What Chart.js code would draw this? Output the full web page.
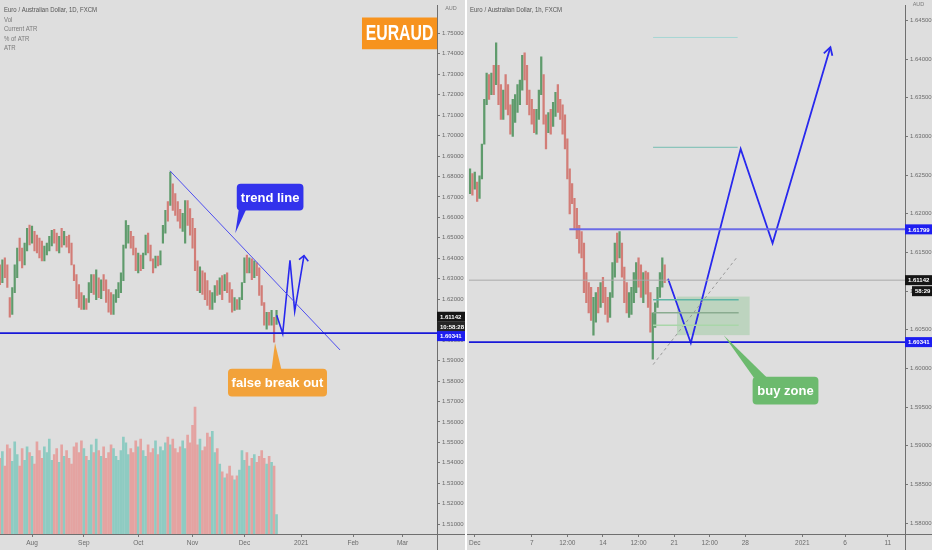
<!DOCTYPE html>
<html>
<head>
<meta charset="utf-8">
<title>EURAUD</title>
<script src="https://cdn.jsdelivr.net/npm/chart.js@4.4.1/dist/chart.umd.min.js"></script>
<style>
  html, body { margin: 0; padding: 0; background: #dedede; }
  body { width: 932px; height: 550px; position: relative; overflow: hidden; }
  canvas { position: absolute; top: 0; }
  #daily { left: 0; }
  #hourly { left: 467px; }
  #gap { position: absolute; left: 465px; top: 0; width: 2px; height: 550px; background: #fff; }
</style>
</head>
<body>
<canvas id="daily" width="465" height="550"></canvas>
<div id="gap"></div>
<canvas id="hourly" width="465" height="550"></canvas>
<script>
// ---------- daily chart (left) : one bar per trading day, day 0 = Aug 3 ----------
const dFirst = -13;
const dHigh = [
  1.6368, 1.6392, 1.6402, 1.6368, 1.6208, 1.6257, 1.6368, 1.6450, 1.6499, 1.6450,
  1.6474, 1.6547, 1.6562, 1.6557, 1.6532, 1.6513, 1.6499, 1.6484, 1.6460, 1.6474,
  1.6508, 1.6537, 1.6542, 1.6523, 1.6508, 1.6547, 1.6532, 1.6508, 1.6513, 1.6474,
  1.6368, 1.6320, 1.6271, 1.6232, 1.6218, 1.6203, 1.6281, 1.6320, 1.6320, 1.6344,
  1.6305, 1.6295, 1.6320, 1.6295, 1.6247, 1.6232, 1.6223, 1.6247, 1.6281, 1.6329,
  1.6465, 1.6585, 1.6561, 1.6532, 1.6508, 1.6450, 1.6426, 1.6416, 1.6426, 1.6513,
  1.6523, 1.6465, 1.6397, 1.6411, 1.6411, 1.6436, 1.6561, 1.6634, 1.6677, 1.6822,
  1.6764, 1.6716, 1.6677, 1.6639, 1.6620, 1.6682, 1.6682, 1.6643, 1.6595, 1.6547,
  1.6387, 1.6358, 1.6339, 1.6329, 1.6291, 1.6242, 1.6232, 1.6266, 1.6291, 1.6305,
  1.6315, 1.6320, 1.6329, 1.6281, 1.6247, 1.6208, 1.6198, 1.6208, 1.6281, 1.6402,
  1.6416, 1.6402, 1.6397, 1.6387, 1.6378, 1.6353, 1.6266, 1.6184, 1.6136, 1.6136,
  1.6145, 1.6111, 1.6145
];
const dLow = [
  1.6271, 1.6281, 1.6305, 1.6257, 1.6112, 1.6126, 1.6232, 1.6305, 1.6387, 1.6353,
  1.6368, 1.6436, 1.6465, 1.6474, 1.6436, 1.6426, 1.6402, 1.6387, 1.6387, 1.6416,
  1.6436, 1.6460, 1.6474, 1.6436, 1.6426, 1.6455, 1.6465, 1.6455, 1.6426, 1.6368,
  1.6291, 1.6203, 1.6160, 1.6150, 1.6150, 1.6150, 1.6184, 1.6232, 1.6223, 1.6198,
  1.6208, 1.6203, 1.6242, 1.6184, 1.6136, 1.6126, 1.6126, 1.6184, 1.6208, 1.6232,
  1.6291, 1.6450, 1.6474, 1.6450, 1.6416, 1.6339, 1.6329, 1.6339, 1.6349, 1.6416,
  1.6426, 1.6387, 1.6329, 1.6353, 1.6363, 1.6368, 1.6474, 1.6523, 1.6581, 1.6658,
  1.6634, 1.6610, 1.6581, 1.6547, 1.6532, 1.6474, 1.6561, 1.6513, 1.6450, 1.6339,
  1.6242, 1.6232, 1.6223, 1.6198, 1.6169, 1.6150, 1.6150, 1.6184, 1.6218, 1.6223,
  1.6198, 1.6242, 1.6232, 1.6184, 1.6136, 1.6145, 1.6150, 1.6150, 1.6198, 1.6281,
  1.6329, 1.6329, 1.6295, 1.6305, 1.6315, 1.6218, 1.6169, 1.6073, 1.6054, 1.6073,
  1.6073, 1.5990, 1.6077
];
const dClose = [
  1.6290, 1.6380, 1.6320, 1.6265, 1.6130, 1.6240, 1.6350, 1.6440, 1.6400, 1.6370,
  1.6460, 1.6540, 1.6480, 1.6500, 1.6450, 1.6440, 1.6410, 1.6400, 1.6450, 1.6470,
  1.6500, 1.6530, 1.6490, 1.6450, 1.6500, 1.6475, 1.6500, 1.6470, 1.6440, 1.6380,
  1.6300, 1.6220, 1.6200, 1.6160, 1.6210, 1.6195, 1.6270, 1.6300, 1.6240, 1.6290,
  1.6220, 1.6285, 1.6260, 1.6200, 1.6150, 1.6140, 1.6180, 1.6230, 1.6270, 1.6310,
  1.6440, 1.6480, 1.6520, 1.6460, 1.6430, 1.6350, 1.6400, 1.6350, 1.6420, 1.6500,
  1.6440, 1.6400, 1.6340, 1.6400, 1.6370, 1.6420, 1.6550, 1.6620, 1.6600, 1.6680,
  1.6650, 1.6620, 1.6600, 1.6560, 1.6600, 1.6660, 1.6580, 1.6530, 1.6470, 1.6360,
  1.6260, 1.6320, 1.6240, 1.6210, 1.6180, 1.6160, 1.6220, 1.6260, 1.6230, 1.6300,
  1.6250, 1.6310, 1.6250, 1.6200, 1.6150, 1.6190, 1.6160, 1.6200, 1.6270, 1.6390,
  1.6340, 1.6390, 1.6310, 1.6370, 1.6330, 1.6230, 1.6180, 1.6090, 1.6120, 1.6080,
  1.6130, 1.6060, 1.6114
];
const dOpen0 = 1.6320;
const dVolume = [
  78, 85, 70, 92, 88, 75, 95, 82, 70, 88,
  76, 90, 84, 80, 72, 95, 86, 78, 90, 84,
  98, 76, 82, 88, 74, 92, 80, 86, 78, 72,
  90, 94, 84, 96, 88, 80, 76, 92, 84, 98,
  86, 80, 90, 78, 84, 92, 88, 80, 76, 86,
  100, 94, 82, 88, 84, 96, 90, 98, 86, 80,
  92, 84, 88, 96, 82, 90, 86, 94, 100, 92,
  98, 88, 84, 90, 96, 88, 102, 94, 112, 131,
  92, 98, 86, 90, 104, 100, 106, 84, 88, 72,
  64, 58, 62, 70, 60, 56, 60, 66, 86, 76,
  84, 70, 78, 82, 74, 80, 86, 78, 72, 80,
  74, 70, 20
];
const dTickPos = [0, 21, 43, 65, 86, 109, 130, 150];
const dTickNames = ['Aug', 'Sep', 'Oct', 'Nov', 'Dec', '2021', 'Feb', 'Mar'];
const dPriceTicks = [1.51, 1.52, 1.53, 1.54, 1.55, 1.56, 1.57, 1.58, 1.59, 1.60, 1.61, 1.62, 1.63,
  1.64, 1.65, 1.66, 1.67, 1.68, 1.69, 1.70, 1.71, 1.72, 1.73, 1.74, 1.75];

// ---------- hourly chart (right) : one bar per 4 hours, day 0 = Dec 1 ----------
const hFirst = -2 / 6;
const hStep = 1 / 6;
const hHigh = [
  1.6258, 1.6252, 1.6254, 1.6241, 1.6249, 1.6290, 1.6348, 1.6382, 1.6380, 1.6382,
  1.6392, 1.6421, 1.6392, 1.6367, 1.6360, 1.6380, 1.6367, 1.6341, 1.6348, 1.6354,
  1.6367, 1.6373, 1.6405, 1.6408, 1.6392, 1.6360, 1.6348, 1.6335, 1.6335, 1.6360,
  1.6403, 1.6380, 1.6328, 1.6331, 1.6335, 1.6344, 1.6357, 1.6367, 1.6348, 1.6341,
  1.6328, 1.6297, 1.6258, 1.6239, 1.6220, 1.6207, 1.6185, 1.6177, 1.6162, 1.6124,
  1.6111, 1.6105, 1.6092, 1.6098, 1.6105, 1.6111, 1.6118, 1.6105, 1.6092, 1.6098,
  1.6137, 1.6162, 1.6175, 1.6177, 1.6162, 1.6131, 1.6111, 1.6098, 1.6105, 1.6124,
  1.6137, 1.6143, 1.6134, 1.6124, 1.6126, 1.6124, 1.6098, 1.6072, 1.6085, 1.6105,
  1.6124, 1.6143, 1.6134
];
const hLow = [
  1.6226, 1.6224, 1.6232, 1.6216, 1.6220, 1.6245, 1.6290, 1.6341, 1.6348, 1.6354,
  1.6354, 1.6367, 1.6341, 1.6322, 1.6322, 1.6335, 1.6328, 1.6303, 1.6300, 1.6318,
  1.6331, 1.6341, 1.6360, 1.6373, 1.6341, 1.6328, 1.6316, 1.6305, 1.6303, 1.6322,
  1.6354, 1.6316, 1.6284, 1.6305, 1.6303, 1.6313, 1.6326, 1.6331, 1.6322, 1.6303,
  1.6284, 1.6245, 1.6200, 1.6213, 1.6181, 1.6168, 1.6149, 1.6143, 1.6098, 1.6085,
  1.6072, 1.6062, 1.6043, 1.6060, 1.6072, 1.6079, 1.6085, 1.6070, 1.6060, 1.6066,
  1.6092, 1.6118, 1.6137, 1.6143, 1.6118, 1.6085, 1.6072, 1.6066, 1.6070, 1.6085,
  1.6098, 1.6105, 1.6092, 1.6085, 1.6096, 1.6079, 1.6047, 1.6012, 1.6053, 1.6079,
  1.6092, 1.6105, 1.6111
];
const hClose = [
  1.6240, 1.6230, 1.6245, 1.6222, 1.6244, 1.6285, 1.6340, 1.6370, 1.6355, 1.6376,
  1.6360, 1.6380, 1.6350, 1.6330, 1.6355, 1.6340, 1.6335, 1.6310, 1.6340, 1.6350,
  1.6362, 1.6368, 1.6400, 1.6380, 1.6350, 1.6335, 1.6322, 1.6312, 1.6330, 1.6355,
  1.6375, 1.6325, 1.6310, 1.6325, 1.6310, 1.6340, 1.6350, 1.6338, 1.6330, 1.6308,
  1.6292, 1.6255, 1.6220, 1.6218, 1.6190, 1.6175, 1.6158, 1.6155, 1.6108, 1.6092,
  1.6080, 1.6070, 1.6085, 1.6090, 1.6080, 1.6105, 1.6090, 1.6078, 1.6068, 1.6092,
  1.6130, 1.6155, 1.6145, 1.6150, 1.6125, 1.6092, 1.6080, 1.6090, 1.6100, 1.6118,
  1.6130, 1.6110, 1.6100, 1.6120, 1.6102, 1.6085, 1.6055, 1.6068, 1.6080, 1.6100,
  1.6120, 1.6130, 1.6114
];
const hOpen0 = 1.6235;
const hTickPos = [0, 4, 6.5, 9, 11.5, 14, 16.5, 19, 23, 26, 29];
const hTickNames = ['Dec', '7', '12:00', '14', '12:00', '21', '12:00', '28', '2021', '6', '11'];
const hPriceTicks = [1.58, 1.585, 1.59, 1.595, 1.60, 1.605, 1.61, 1.615, 1.62, 1.625, 1.63, 1.635, 1.64, 1.645];

// levels
const lastPrice = 1.61142;
const support = 1.60341;
const resistance = 1.61799;

// ---------- helpers ----------
const SANS = "'Liberation Sans', Arial, sans-serif";
Chart.defaults.font.family = SANS;
Chart.defaults.font.size = 6;
Chart.defaults.color = '#6b6b6b';
Chart.defaults.animation = false;

const UP = '#5f9b6c', DOWN = '#d27d77';
const VOL_UP = '#8ecbc2', VOL_DOWN = '#e4a3a1';
const BLUE = '#2828ee';

function colours(close, open0, up, down) {
  return close.map((c, i) => c >= (i ? close[i - 1] : open0) ? up : down);
}

function line(points, color, width, dash) {
  return {
    type: 'line', data: points.map(p => ({ x: p[0], y: p[1] })),
    borderColor: color, borderWidth: width, borderDash: dash || [],
    pointRadius: 0, fill: false, tension: 0, order: 0, yAxisID: 'y'
  };
}

function timeAxis(min, max, pos, names) {
  return {
    type: 'linear', min, max, offset: false,
    afterBuildTicks: s => { s.ticks = pos.map(v => ({ value: v })); },
    afterFit: s => { s.height = 16; },
    ticks: { autoSkip: false, maxRotation: 0, padding: 2, font: { size: 6.5 }, callback: v => names[pos.indexOf(v)] },
    grid: { drawOnChartArea: false, tickLength: 3, color: '#777', offset: false },
    border: { color: '#6f6f6f' }
  };
}

function priceAxis(min, max, ticks, width) {
  return {
    position: 'right', min, max,
    afterBuildTicks: s => { s.ticks = ticks.map(v => ({ value: v })); },
    afterFit: s => { s.width = width; },
    ticks: { padding: 2, callback: v => Number(v).toFixed(5) },
    grid: { drawOnChartArea: false, tickLength: 3, color: '#777' },
    border: { color: '#6f6f6f' }
  };
}

function box(g, l, t, w, h, r) {
  g.beginPath();
  if (g.roundRect) g.roundRect(l, t, w, h, r); else g.rect(l, t, w, h);
  g.fill();
}

function callout(chart, c) {
  const g = chart.ctx, xs = chart.scales.x, ys = chart.scales.y;
  const l = xs.getPixelForValue(c.x0), r = xs.getPixelForValue(c.x1);
  const t = ys.getPixelForValue(c.top), b = ys.getPixelForValue(c.bottom);
  g.save();
  g.fillStyle = c.color;
  box(g, l, t, r - l, b - t, c.radius);
  if (c.tip) {
    const tx = xs.getPixelForValue(c.tip[0]), ty = ys.getPixelForValue(c.tip[1]);
    const edge = ty > b ? b - 1 : t + 1;
    g.beginPath();
    g.moveTo(l + (r - l) * c.base[0], edge);
    g.lineTo(tx, ty);
    g.lineTo(l + (r - l) * c.base[1], edge);
    g.closePath();
    g.fill();
  }
  g.fillStyle = '#fff';
  g.font = 'bold ' + c.size + 'px ' + SANS;
  g.textAlign = 'center';
  g.textBaseline = 'middle';
  g.translate((l + r) / 2, (t + b) / 2 + 1);
  g.scale(c.squeeze || 1, 1);
  g.fillText(c.text, 0, 0);
  g.restore();
}

function tag(chart, price, text, bg, dy, indent) {
  const g = chart.ctx;
  const y = chart.scales.y.getPixelForValue(price) + dy;
  const x0 = chart.chartArea.right + indent;
  g.save();
  g.fillStyle = bg;
  g.fillRect(x0, y - 5, chart.width - x0, 10);
  g.fillStyle = '#fff';
  g.font = 'bold 6px ' + SANS;
  g.textAlign = 'left';
  g.textBaseline = 'middle';
  g.fillText(text, x0 + 3, y + 0.5);
  g.restore();
}

function frame(chart) {
  const g = chart.ctx, a = chart.chartArea;
  g.save();
  g.strokeStyle = '#6f6f6f';
  g.lineWidth = 1;
  g.beginPath();
  g.moveTo(0, a.bottom + 0.5); g.lineTo(chart.width, a.bottom + 0.5);
  g.moveTo(a.right + 0.5, a.bottom); g.lineTo(a.right + 0.5, chart.height);
  g.stroke();
  g.restore();
}

function legendText(chart, lines, x) {
  const g = chart.ctx;
  g.save();
  g.textAlign = 'left';
  g.textBaseline = 'middle';
  lines.forEach((s, i) => {
    g.save();
    g.translate(x, 10 + i * 9.6);
    g.scale(0.86, 1);
    g.fillStyle = i ? '#7a7a7a' : '#555';
    g.font = '7px ' + SANS;
    g.fillText(s, 0, 0);
    g.restore();
  });
  g.restore();
}

function unitText(chart, y) {
  const g = chart.ctx, a = chart.chartArea;
  g.save();
  g.fillStyle = '#7a7a7a';
  g.font = '5.5px ' + SANS;
  g.textAlign = 'center';
  g.textBaseline = 'middle';
  g.fillText('AUD', (a.right + chart.width) / 2, y);
  g.restore();
}

const background = {
  id: 'background',
  beforeDraw(chart) {
    const g = chart.ctx;
    g.save(); g.fillStyle = '#dedede'; g.fillRect(0, 0, chart.width, chart.height); g.restore();
  }
};

// ---------- left : daily ----------
const dX = dHigh.map((_, i) => dFirst + i);
const dUpDown = colours(dClose, dOpen0, UP, DOWN);
const dVolColour = colours(dClose, dOpen0, VOL_UP, VOL_DOWN);

const dailyNotes = {
  id: 'dailyNotes',
  afterDatasetsDraw(chart) {
    callout(chart, { text: 'trend line', x0: 82.9, x1: 109.9, top: 1.67647, bottom: 1.66340,
      tip: [82.3, 1.65228], base: [0.03, 0.14], color: '#3232ec', size: 13, radius: 4 });
    callout(chart, { text: 'false break out', x0: 79.35, x1: 119.43, top: 1.58600, bottom: 1.57245,
      tip: [98.38, 1.59858], base: [0.44, 0.54], color: '#f2a23a', size: 13, radius: 4 });
    callout(chart, { text: 'EURAUD', x0: 133.6, x1: 164, top: 1.75774, bottom: 1.74226,
      color: '#f7931e', size: 22, radius: 0, squeeze: 0.72 });
    legendText(chart, ['Euro / Australian Dollar, 1D, FXCM', 'Vol', 'Current ATR', '% of ATR', 'ATR'], 4);
  },
  afterDraw(chart) {
    frame(chart);
    unitText(chart, 8);
    tag(chart, lastPrice, '1.61142', '#151515', 0, 0);
    tag(chart, lastPrice, '10:58:28', '#262626', 10, 0);
    tag(chart, support, '1.60341', '#1d1df0', 3, 0);
  }
};

new Chart(document.getElementById('daily'), {
  type: 'bar',
  data: {
    datasets: [
      line([[-13, support], [164, support]], '#1818d8', 1.6),
      line([[55.87, 1.68276], [124.70, 1.59519]], '#4e4ef0', 1),
      line([[99.07, 1.61212], [101.5, 1.6032], [104.45, 1.63905], [106.36, 1.61406], [110.12, 1.64129]], BLUE, 1.6),
      line([[108.1, 1.63936], [110.12, 1.64129], [111.86, 1.63859]], BLUE, 1.6),
      { type: 'bar', data: dX.map((x, i) => ({ x, y: [dLow[i], dHigh[i]] })), backgroundColor: dUpDown,
        barThickness: 1.5, grouped: false, order: 2, yAxisID: 'y' },
      { type: 'bar', data: dX.map((x, i) => ({ x, y: dVolume[i] })), backgroundColor: dVolColour,
        barThickness: 2, grouped: false, order: 3, yAxisID: 'vol' }
    ]
  },
  options: {
    responsive: false,
    layout: { padding: 0 },
    plugins: { legend: { display: false }, tooltip: { enabled: false } },
    scales: {
      x: timeAxis(-12.96, 163.97, dTickPos, dTickNames),
      y: priceAxis(1.50520, 1.76355, dPriceTicks, 28),
      vol: { display: false, min: 0, max: 545 }
    }
  },
  plugins: [background, dailyNotes]
});

// ---------- right : hourly ----------
const hX = hHigh.map((_, i) => hFirst + i * hStep);
const hUpDown = colours(hClose, hOpen0, UP, DOWN);

const hourlyNotes = {
  id: 'hourlyNotes',
  beforeDatasetsDraw(chart) {
    const g = chart.ctx, xs = chart.scales.x, ys = chart.scales.y;
    const l = xs.getPixelForValue(14.20), r = xs.getPixelForValue(19.30);
    const t = ys.getPixelForValue(1.60930), b = ys.getPixelForValue(1.60431);
    g.save(); g.fillStyle = 'rgba(130,195,135,0.35)'; g.fillRect(l, t, r - l, b - t); g.restore();
  },
  afterDatasetsDraw(chart) {
    callout(chart, { text: 'buy zone', x0: 19.51, x1: 24.13, top: 1.59893, bottom: 1.59535,
      tip: [17.48, 1.60431], base: [0.02, 0.22], color: '#6cba6e', size: 13, radius: 4 });
    legendText(chart, ['Euro / Australian Dollar, 1h, FXCM'], 3);
  },
  afterDraw(chart) {
    frame(chart);
    unitText(chart, 4);
    tag(chart, resistance, '1.61799', '#1d1df0', 0, 0);
    tag(chart, lastPrice, '1.61142', '#151515', 0, 0);
    tag(chart, lastPrice, '58:29', '#151515', 11, 7);
    tag(chart, support, '1.60341', '#1d1df0', 0, 0);
  }
};

new Chart(document.getElementById('hourly'), {
  type: 'bar',
  data: {
    datasets: [
      line([[-0.42, support], [30.3, support]], '#1818d8', 1.8),
      line([[6.64, resistance], [30.3, resistance]], '#6b6be6', 2),
      line([[-0.42, lastPrice], [30.3, lastPrice]], '#a9a9a9', 1),
      line([[12.52, 1.6428], [18.46, 1.6428]], '#a6d6d4', 1),
      line([[12.52, 1.6286], [18.46, 1.6286]], '#74bdb2', 1),
      line([[12.52, 1.6089], [18.53, 1.6089]], '#5eb5a6', 1.5),
      line([[12.52, 1.6072], [18.53, 1.6072]], '#8aab90', 1.5),
      line([[12.52, 1.6056], [18.53, 1.6056]], '#a9d6a9', 1.5),
      line([[12.52, 1.6005], [18.46, 1.6145]], '#9a9a9a', 1, [3, 3]),
      line([[13.57, 1.6116], [15.17, 1.6033], [18.67, 1.6284], [20.91, 1.6162], [24.97, 1.64155]], BLUE, 1.8),
      line([[24.51, 1.64075], [24.97, 1.64155], [25.11, 1.64043]], BLUE, 1.8),
      { type: 'bar', data: hX.map((x, i) => ({ x, y: [hLow[i], hHigh[i]] })), backgroundColor: hUpDown,
        barThickness: 1.6, grouped: false, order: 2, yAxisID: 'y' }
    ]
  },
  options: {
    responsive: false,
    layout: { padding: 0 },
    plugins: { legend: { display: false }, tooltip: { enabled: false } },
    scales: {
      x: timeAxis(-0.42, 30.21, hTickPos, hTickNames),
      y: priceAxis(1.57860, 1.64692, hPriceTicks, 27)
    }
  },
  plugins: [background, hourlyNotes]
});
</script>
</body>
</html>
